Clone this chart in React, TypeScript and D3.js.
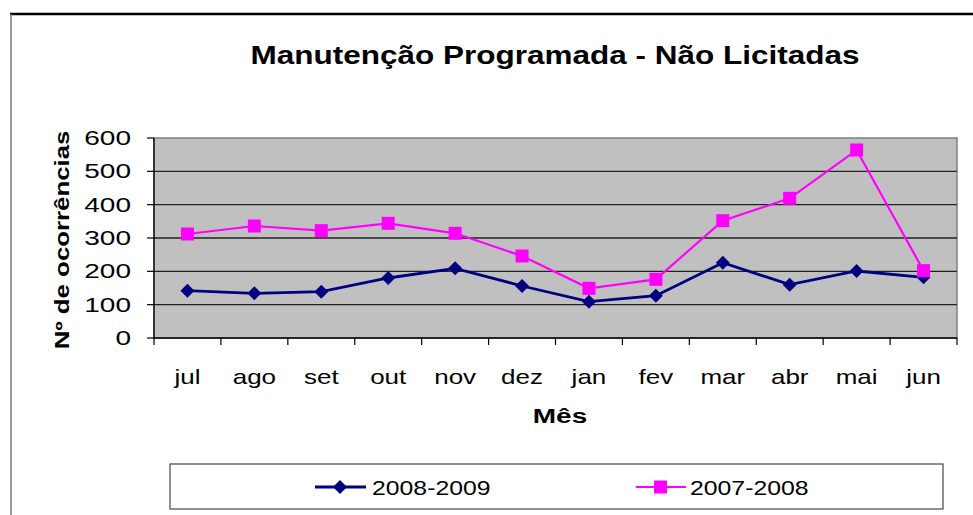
import React from 'react';
import * as d3 from 'd3';

const months = ['jul', 'ago', 'set', 'out', 'nov', 'dez', 'jan', 'fev', 'mar', 'abr', 'mai', 'jun'];
const serie2008_2009 = [142, 134, 139, 180, 209, 156, 109, 127, 226, 160, 201, 182];
const serie2007_2008 = [312, 336, 322, 344, 314, 246, 149, 176, 352, 419, 564, 202];
const yTicks = [0, 100, 200, 300, 400, 500, 600];

const W = 973;
const H = 515;
const plot = { left: 154, right: 957, top: 138, bottom: 338 };
const FONT = "'Liberation Sans', Arial, sans-serif";

// the source picture has its text stretched horizontally, so text is drawn with a scale
const SText: React.FC<{
  x: number; y: number; sx: number; size: number; anchor?: string; bold?: boolean; rotate?: number;
  children: React.ReactNode;
}> = ({ x, y, sx, size, anchor = 'start', bold = false, rotate = 0, children }) => (
  <text
    transform={`translate(${x},${y}) rotate(${rotate}) scale(${sx},1)`}
    textAnchor={anchor}
    dy="0.35em"
    fontSize={size}
    fontWeight={bold ? 'bold' : 'normal'}
    fill="#000"
  >
    {children}
  </text>
);

const App: React.FC = () => {
  const x = d3.scaleBand().domain(months).range([plot.left, plot.right]);
  const y = d3.scaleLinear().domain([0, 600]).range([plot.bottom, plot.top]);
  const cx = (m: string) => (x(m) || 0) + x.bandwidth() / 2;

  const line = d3.line<number>()
    .x((_, i) => cx(months[i]))
    .y(d => y(d));

  const diamond = 'M0,-7L7,0L0,7L-7,0Z';

  const boundaries = d3.range(months.length + 1).map(i => plot.left + i * x.bandwidth());

  return (
    <svg width={W} height={H} style={{ position: 'absolute', left: 0, top: 0 }} fontFamily={FONT}>
      <rect width={W} height={H} fill="#fff" />
      {/* outer frame */}
      <line x1={10} x2={W} y1={14} y2={14} stroke="#000" strokeWidth={2.5} />
      <line x1={11} x2={11} y1={14} y2={H} stroke="#777" strokeWidth={1.5} />

      <SText x={555} y={55} sx={1.26} size={25} anchor="middle" bold>
        Manutenção Programada - Não Licitadas
      </SText>

      {/* plot area */}
      <rect x={plot.left} y={plot.top} width={plot.right - plot.left} height={plot.bottom - plot.top}
        fill="#c0c0c0" stroke="#808080" strokeWidth={1.5} />
      {yTicks.filter(t => t > 0 && t < 600).map(t => (
        <line key={t} x1={plot.left} x2={plot.right} y1={y(t)} y2={y(t)} stroke="#222" strokeWidth={1.4} />
      ))}

      {/* y axis */}
      <line x1={plot.left} x2={plot.left} y1={plot.top} y2={plot.bottom} stroke="#000" strokeWidth={1.3} />
      {yTicks.map(t => (
        <g key={t}>
          <line x1={plot.left - 7} x2={plot.left} y1={y(t)} y2={y(t)} stroke="#000" strokeWidth={1.2} />
          <SText x={131} y={y(t)} sx={1.4} size={20} anchor="end">{t}</SText>
        </g>
      ))}
      <SText x={62} y={(plot.top + plot.bottom) / 2 + 2} sx={1.29} size={20} anchor="middle" bold rotate={-90}>
        Nº de ocorrências
      </SText>

      {/* x axis */}
      <line x1={plot.left} x2={plot.right} y1={plot.bottom} y2={plot.bottom} stroke="#000" strokeWidth={1.3} />
      {boundaries.map((b, i) => (
        <line key={i} x1={b} x2={b} y1={plot.bottom} y2={plot.bottom + 7} stroke="#000" strokeWidth={1.2} />
      ))}
      {months.map(m => (
        <SText key={m} x={cx(m)} y={377} sx={1.3} size={20} anchor="middle">{m}</SText>
      ))}
      <SText x={560} y={416} sx={1.4} size={20} anchor="middle" bold>Mês</SText>

      {/* series */}
      <path d={line(serie2008_2009) || ''} fill="none" stroke="#000080" strokeWidth={2.8} />
      {serie2008_2009.map((v, i) => (
        <path key={i} d={diamond} transform={`translate(${cx(months[i])},${y(v)})`} fill="#000080" />
      ))}
      <path d={line(serie2007_2008) || ''} fill="none" stroke="#ff00ff" strokeWidth={2.2} />
      {serie2007_2008.map((v, i) => (
        <rect key={i} x={cx(months[i]) - 6.5} y={y(v) - 6.5} width={13} height={13} fill="#ff00ff" />
      ))}

      {/* legend */}
      <rect x={170} y={464} width={773} height={45} fill="#fff" stroke="#555" strokeWidth={1.3} />
      <line x1={315} x2={366} y1={487} y2={487} stroke="#000080" strokeWidth={2.8} />
      <path d={diamond} transform="translate(340,487)" fill="#000080" />
      <SText x={372} y={488} sx={1.24} size={20}>2008-2009</SText>
      <line x1={636} x2={686} y1={487} y2={487} stroke="#ff00ff" strokeWidth={2.2} />
      <rect x={654} y={480.5} width={13} height={13} fill="#ff00ff" />
      <SText x={690} y={488} sx={1.24} size={20}>2007-2008</SText>
    </svg>
  );
};

export default App;
